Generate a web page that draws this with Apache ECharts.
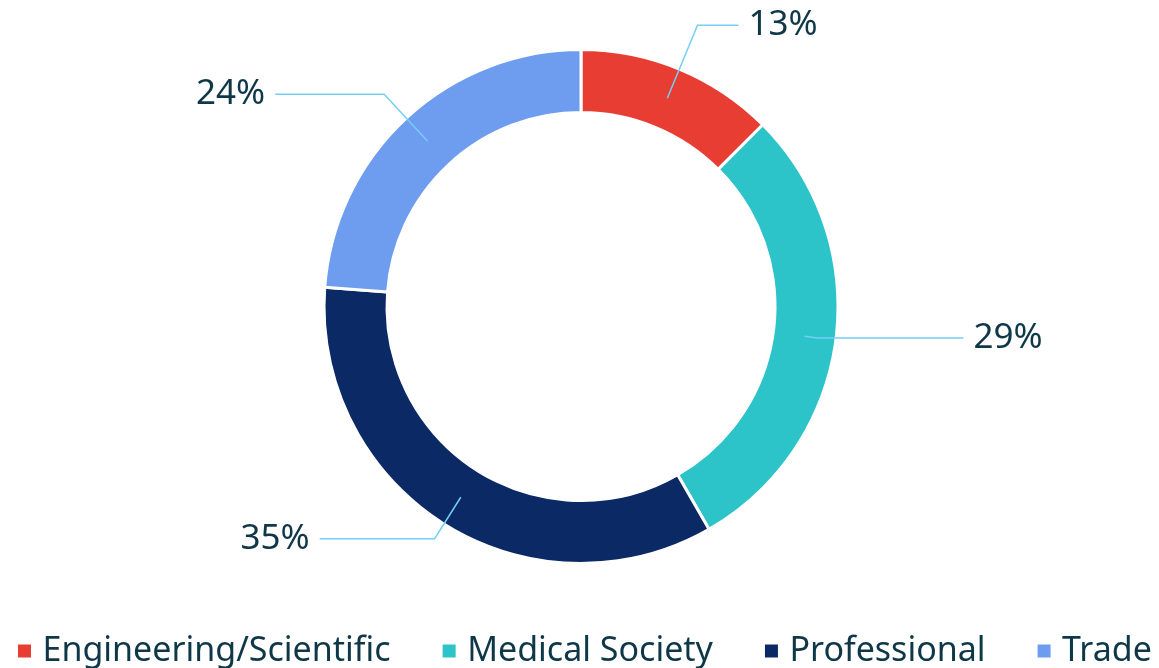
<!DOCTYPE html>
<html>
<head>
<meta charset="utf-8">
<script src="https://cdn.jsdelivr.net/npm/echarts@6/dist/echarts.min.js"></script>
<style>
html,body{margin:0;padding:0;background:#fff;}
#chart{width:1159px;height:668px;}
</style>
</head>
<body>
<div id="chart"></div>
<script>
// ---- data ----
const categories = ['Engineering/Scientific', 'Medical Society', 'Professional', 'Trade'];
const shares = [12.5, 29.2, 34.5, 23.8];

// ---- styles ----
const colors = ['#e83d32', '#2cc3c9', '#0b2a65', '#6e9df0'];
const lineLen = [79, 13, 49, 64];
const lineLen2 = [41, 146, 115, 109];
const textColor = '#0e3747';
const fontFamily = '"Noto Sans", "Open Sans", sans-serif';

const chart = echarts.init(document.getElementById('chart'), null, {renderer: 'canvas'});

const ringData = categories.map((c, i) => ({
  name: c, value: shares[i], itemStyle: {color: colors[i]}
}));
const labelData = categories.map((c, i) => ({
  name: c, value: shares[i],
  labelLine: {length: lineLen[i], length2: lineLen2[i]}
}));

chart.setOption({
  backgroundColor: '#fff',
  animation: false,
  legend: {
    data: categories,
    left: 11,
    top: 629,
    orient: 'horizontal',
    icon: 'path://M0,0h10v10h-10z',
    itemWidth: 26,
    itemHeight: 15,
    itemGap: 50,
    textStyle: {fontFamily: fontFamily, fontSize: 34, color: textColor}
  },
  series: [
    {
      type: 'pie',
      center: [581, 306.5],
      radius: [194, 257],
      startAngle: 90,
      clockwise: true,
      avoidLabelOverlap: false,
      label: {show: false},
      labelLine: {show: false},
      itemStyle: {borderColor: '#fff', borderWidth: 3},
      emphasis: {disabled: true},
      data: ringData,
      z: 1
    },
    {
      type: 'pie',
      center: [581, 306.5],
      radius: [0, 225.5],
      startAngle: 90,
      clockwise: true,
      avoidLabelOverlap: false,
      silent: true,
      legendHoverLink: false,
      itemStyle: {color: 'rgba(0,0,0,0)', borderWidth: 0},
      emphasis: {disabled: true},
      label: {
        show: true,
        position: 'outside',
        distanceToLabelLine: 10,
        fontFamily: fontFamily,
        fontSize: 35,
        color: textColor,
        padding: [6, 0, 0, 0],
        formatter: p => Math.round(p.value) + '%'
      },
      labelLine: {
        show: true,
        smooth: false,
        lineStyle: {color: '#74cff5', width: 1.5}
      },
      data: labelData,
      z: 3
    }
  ]
});
</script>
</body>
</html>
